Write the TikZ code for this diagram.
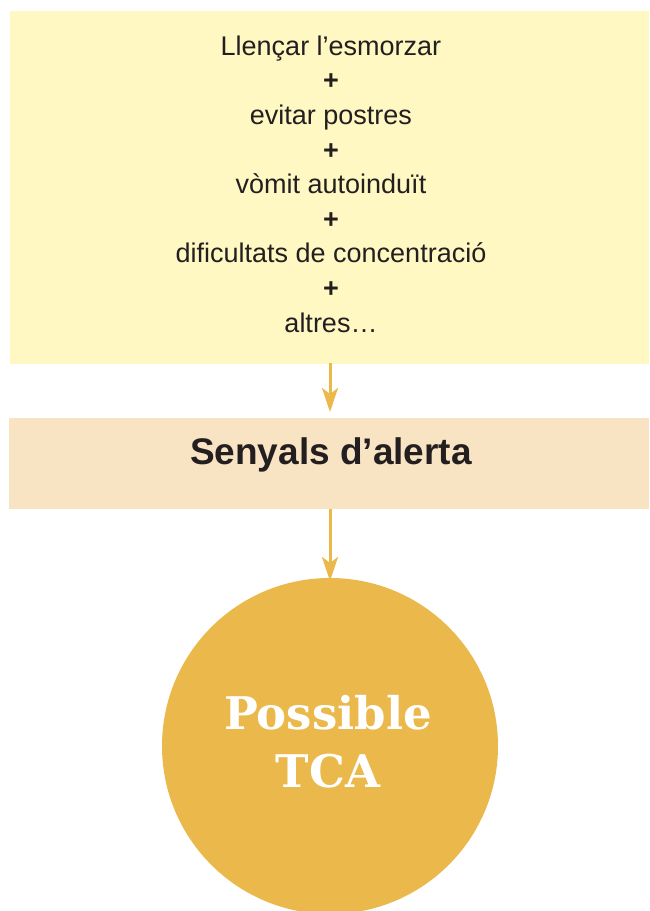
\documentclass[tikz,border=0pt]{standalone}
\usepackage{fontspec}
\setmainfont{Liberation Sans}
\newfontfamily\slabfont{DejaVu Serif}
\usetikzlibrary{arrows.meta}
\definecolor{topfill}{HTML}{FFF8C2}
\definecolor{midfill}{HTML}{F8E3C3}
\definecolor{gold}{HTML}{EBB84B}
\definecolor{txt}{HTML}{231F20}
\tikzset{
  panel/.style={draw=none, anchor=north west, inner sep=0pt},
  flowarrow/.style={draw=gold, line width=3pt, -{Stealth[length=24pt, width=16pt, inset=6pt]}},
}
\begin{document}
\begin{tikzpicture}[x=1pt,y=-1pt]
\useasboundingbox (0,0) rectangle (649,911);
\begin{scope}
\clip (0,0) rectangle (649,911);
\node[panel, fill=topfill, minimum width=639pt, minimum height=353pt] (top) at (10,11) {};
\node[panel, fill=midfill, minimum width=640pt, minimum height=91pt] (mid) at (9,418) {};
\node[circle, fill=gold, minimum size=336pt, inner sep=0pt] (circ) at (330,746) {};
\end{scope}
\node[align=center, font=\fontsize{27}{34.6}\selectfont, text=txt] (list) at (331,184)
 {Llençar l’esmorzar\\ \textbf{+}\\ evitar postres\\ \textbf{+}\\ vòmit autoinduït\\ \textbf{+}\\ dificultats de concentració\\ \textbf{+}\\ altres…};
\node[font=\fontsize{37}{42}\bfseries\selectfont, text=txt] (alert) at (331,455) {Senyals d’alerta};
\node[align=center, text=white, font=\slabfont\bfseries\fontsize{45}{58}\selectfont] (tca) at (328,742) {Possible\\TCA};
\coordinate (a1s) at (330,363);
\coordinate (a1e) at (330,412);
\coordinate (a2s) at (330,509);
\coordinate (a2e) at (330,581);
\draw[flowarrow] (a1s) -- (a1e);
\draw[flowarrow] (a2s) -- (a2e);
\end{tikzpicture}
\end{document}
